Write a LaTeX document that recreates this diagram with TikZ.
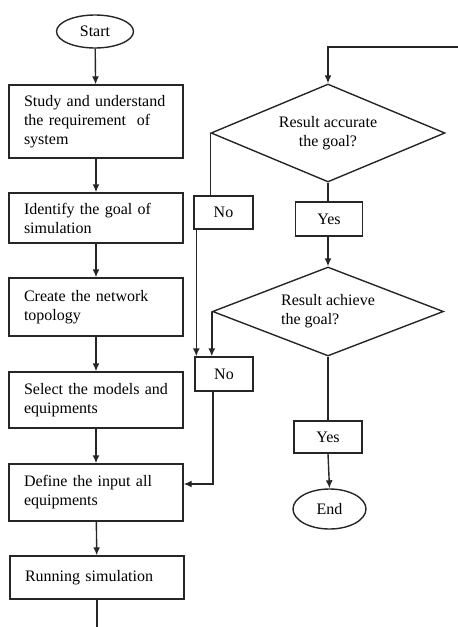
\documentclass[tikz,border=0pt]{standalone}
\usepackage{fontspec}
\setmainfont{Liberation Serif}
\usetikzlibrary{shapes.geometric,arrows.meta}
\begin{document}
\begin{tikzpicture}[x=1pt,y=-1pt,
  every node/.style={font=\fontsize{16}{19}\selectfont},
  line/.style={draw=black!85,line width=1.4pt},
  arr/.style={line,-{Latex[length=8pt,width=7pt]}},
  stepbox/.style={draw=black!85,line width=1.4pt,rectangle,minimum width=174pt,text width=144pt,inner xsep=15pt,inner ysep=0pt,align=left},
  ansbox/.style={draw=black!85,line width=1.4pt,rectangle,inner sep=0pt,align=center},
  term/.style={draw=black!85,line width=1.4pt,ellipse,inner sep=0pt},
  decision/.style={draw=black!85,line width=1.4pt,diamond,inner sep=0pt}
]
\useasboundingbox (0,0) rectangle (458,627);
% left column
\node[term,minimum width=77pt,minimum height=33pt] (start) at (95,31.5) {Start};
\node[stepbox,minimum height=73pt] (b1) at (96,121.5) {Study and understand\\the requirement\ \ of\\system};
\node[stepbox,minimum height=50pt] (b2) at (96,218) {Identify the goal of\\simulation};
\node[stepbox,minimum height=58pt] (b3) at (96,307) {Create the network\\topology};
\node[stepbox,minimum height=56pt] (b4) at (96,400) {Select the models and\\equipments};
\node[stepbox,minimum height=57pt] (b5) at (96,492.5) {Define the input all\\equipments};
\node[stepbox,minimum height=43pt] (b6) at (97,577.5) {Running simulation};
\coordinate (bot) at (97,627);
% right column
\coordinate (tr) at (458,47);
\coordinate (tl) at (328,47);
\node[decision,aspect=2.39,minimum width=234pt,minimum height=98pt,align=center] (d1) at (328,133) {Result accurate\\the goal?};
\node[ansbox,minimum width=67pt,minimum height=34pt] (y1) at (329,219) {Yes};
\node[ansbox,minimum width=59pt,minimum height=33pt] (n1) at (223.5,212.5) {No};
\node[decision,aspect=2.6,minimum width=231pt,minimum height=89pt,align=left] (d2) at (328,311.5) {Result achieve\\the goal?};
\node[ansbox,minimum width=58pt,minimum height=34pt] (n2) at (224,374) {No};
\node[ansbox,minimum width=68pt,minimum height=32pt] (y2) at (328,437) {Yes};
\node[term,minimum width=73pt,minimum height=40pt] (end) at (329.5,509) {End};
% connectors left
\draw[arr] (start) -- (b1);
\draw[arr] (b1) -- (b2);
\draw[arr] (b2) -- (b3);
\draw[arr] (b3) -- (b4);
\draw[arr] (b4) -- (b5);
\draw[arr] (b5) -- (b6);
\draw[line] (b6.south) -- (bot);
% connectors right
\draw[arr] (tr) -- (tl) -- (d1.north);
\draw[line] (d1.south) -- (y1.north -| d1.south);
\draw[line] (d1.west) -- (d1.west |- n1.north);
\draw[arr] (y1.south -| d1.south) -- (d2.north);
\draw[arr] ([xshift=3pt]n1.south west) -- ([xshift=3pt]n1.south west |- n2.north);
\draw[arr] (d2.west) -- (d2.west |- n2.north);
\draw[line] (d2.south) -- (d2.south |- y2.north);
\draw[arr] (y2.south) -- (end.north);
\draw[arr] ([xshift=-11pt]n2.south) |- ([yshift=8.5pt]b5.east);
\end{tikzpicture}
\end{document}
